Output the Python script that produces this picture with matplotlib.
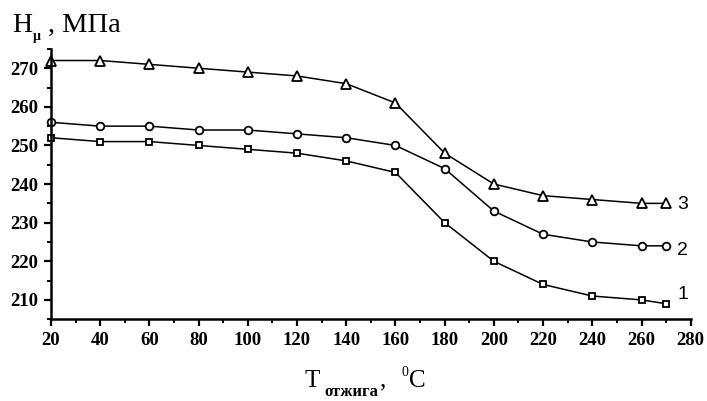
import matplotlib.pyplot as plt
from matplotlib.ticker import MultipleLocator

# температура отжига, °C
temp = [20, 40, 60, 80, 100, 120, 140, 160, 180, 200, 220, 240, 260, 270]
# микротвёрдость, МПа
h1 = [252, 251, 251, 250, 249, 248, 246, 243, 230, 220, 214, 211, 210, 209]
h2 = [256, 255, 255, 254, 254, 253, 252, 250, 244, 233, 227, 225, 224, 224]
h3 = [272, 272, 271, 270, 269, 268, 266, 261, 248, 240, 237, 236, 235, 235]
curve_names = ["1", "2", "3"]
name_pos = [211.5, 222.8, 234.7]

fig = plt.figure(figsize=(7.07, 4.01), dpi=100)
ax = fig.add_axes([0.072, 0.204, 0.905, 0.674])

style = dict(color="black", lw=1.1, mfc="white", mec="black", mew=1.3, clip_on=False)
ax.plot(temp, h1, marker="s", ms=5, **style)
ax.plot(temp, h2, marker="o", ms=5.5, **style)
ax.plot(temp, h3, marker="^", ms=6.5, **style)

for name, y in zip(curve_names, name_pos):
    ax.text(274.5, y, name, fontsize=14, family="Liberation Sans", va="center", ha="left")

ax.set_xlim(20, 280)
ax.set_ylim(205, 275)
ax.xaxis.set_major_locator(MultipleLocator(20))
ax.xaxis.set_minor_locator(MultipleLocator(10))
ax.yaxis.set_minor_locator(MultipleLocator(5))
ax.set_yticks(range(210, 271, 10))

for s in ["top", "right"]:
    ax.spines[s].set_visible(False)
for s in ["left", "bottom"]:
    ax.spines[s].set_linewidth(1.8)

ax.tick_params(which="major", direction="out", length=5, width=1.6,
               labelsize=13.5, pad=4)
ax.tick_params(which="minor", direction="out", length=3, width=1.4)
for lbl in ax.get_xticklabels() + ax.get_yticklabels():
    lbl.set_family("Liberation Serif")
    lbl.set_fontweight("bold")

# подпись оси Y: H_μ, МПа
fig.text(0.017, 0.920, "H", fontsize=20, family="Liberation Serif", va="baseline")
fig.text(0.047, 0.900, "\u03bc", fontsize=10, family="Liberation Serif",
         fontweight="bold", va="baseline")
fig.text(0.068, 0.920, ", МПа", fontsize=20.5, family="Liberation Serif", va="baseline")

# подпись оси X: T_отжига, °C
fig.text(0.431, 0.036, "T", fontsize=18, family="Liberation Serif", va="baseline")
fig.text(0.459, 0.013, "отжига", fontsize=12, family="Liberation Serif",
         fontweight="bold", va="baseline")
fig.text(0.537, 0.036, ",", fontsize=18, family="Liberation Serif", va="baseline")
fig.text(0.568, 0.062, "0", fontsize=10, family="Liberation Serif", va="baseline")
fig.text(0.579, 0.036, "C", fontsize=18, family="Liberation Serif", va="baseline")

fig.savefig("out.png", dpi=100)
